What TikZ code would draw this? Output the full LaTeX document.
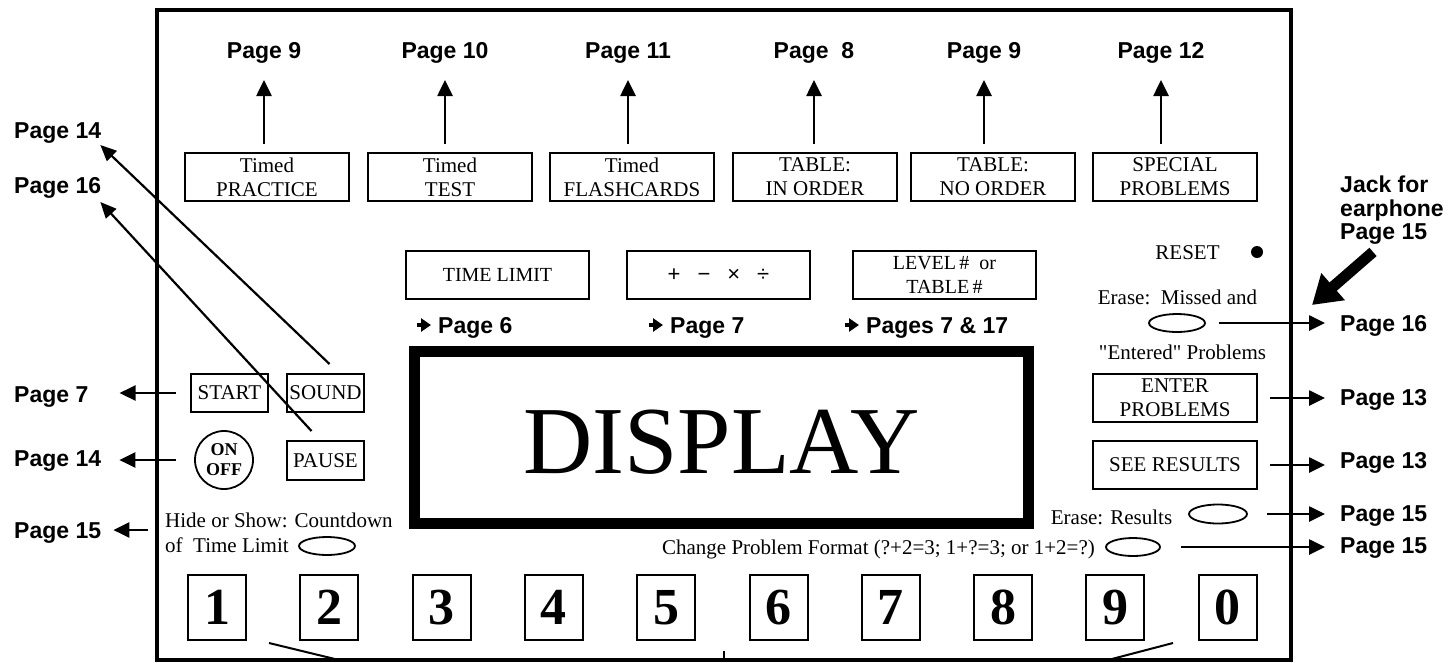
\documentclass[tikz,border=0pt]{standalone}
\usepackage{fontspec}
\setmainfont{Liberation Serif}[Ligatures=TeXOff]
\setsansfont{Liberation Sans}
\usetikzlibrary{arrows.meta,shapes.geometric,calc}
\begin{document}
\begin{tikzpicture}[x=1pt,y=-1pt,
  bl/.style={font=\sffamily\bfseries\fontsize{23}{23.5}\selectfont, inner sep=0pt},
  tx/.style={font=\fontsize{21}{24}\selectfont, inner sep=0pt},
  btn/.style={draw, line width=2pt, inner sep=0pt, align=center, font=\fontsize{21}{24}\selectfont},
  wide/.style={btn, minimum width=164pt, minimum height=48pt},
  mid/.style={btn, minimum width=183pt, minimum height=48pt},
  small/.style={btn, minimum width=77pt, minimum height=38pt},
  oval/.style={ellipse, draw, line width=1.8pt, inner sep=0pt, minimum width=56pt, minimum height=18pt},
  arr/.style={line width=2.6pt, -{Triangle[length=16pt,width=15pt]}},
  diag/.style={line width=2.2pt, -{Triangle[length=16pt,width=14pt]}},
  gl/.style={line width=3.5pt, -{Triangle[length=10pt,width=13pt]}},
  keyb/.style={draw, line width=2pt, minimum width=58pt, minimum height=65pt, inner sep=0pt, font=\bfseries\fontsize{52}{52}\selectfont},
]
\useasboundingbox (0,0) rectangle (1454,662);
% frame
\draw[line width=4.8pt] (157,10) rectangle (1291,660);

% top row
\node[wide] (b1) at (267,177) {Timed\\PRACTICE};
\node[wide] (b2) at (450,177) {Timed\\TEST};
\node[wide] (b3) at (632,177) {Timed\\FLASHCARDS};
\node[wide] (b4) at (815,177) {TABLE:\\IN ORDER};
\node[wide] (b5) at (993,177) {TABLE:\\NO ORDER};
\node[wide] (b6) at (1175,177) {SPECIAL\\PROBLEMS};
\node[bl, anchor=base] (p1) at (264,58) {Page 9};
\node[bl, anchor=base] (p2) at (445,58) {Page 10};
\node[bl, anchor=base] (p3) at (628,58) {Page 11};
\node[bl, anchor=base] (p4) at (814,58) {Page\ \ 8};
\node[bl, anchor=base] (p5) at (984,58) {Page 9};
\node[bl, anchor=base] (p6) at (1161,58) {Page 12};
\foreach \b/\p in {b1/p1,b2/p2,b3/p3,b4/p4,b5/p5,b6/p6}
  \draw[arr] ($(\b.north -| \p.base)+(0,-8)$) -- ($(\p.base)+(0,22)$);

% middle row
\node[mid, font=\fontsize{20}{24}\selectfont] (tl) at (497.5,275) {TIME LIMIT};
\node[mid, font=\sffamily\fontsize{22}{24}\selectfont] (ops) at (718.5,275) {+\hspace{17pt}−\hspace{17pt}×\hspace{17pt}÷};
\node[mid, font=\fontsize{20}{24}\selectfont] (lvl) at (944.5,275) {LEVEL\,\#\ \ or\\TABLE\,\#};
\node[bl, anchor=base west] (m6) at (438,333) {Page 6};
\node[bl, anchor=base west] (m7) at (670,333) {Page 7};
\node[bl, anchor=base west] (m717) at (866,333) {Pages 7 \& 17};
\foreach \m in {m6,m7,m717}
  \draw[gl] ($(\m.base west)+(-21,-8)$) -- ($(\m.base west)+(-7,-8)$);

% display
\node[draw, line width=11pt, minimum width=614pt, minimum height=172pt, inner sep=0pt] (disp) at (721.5,437.5) {};
\node[font=\fontsize{96}{96}\selectfont, inner sep=0pt] (dtext) at ($(disp.center)+(0,4.5)$) {DISPLAY};

% left controls
\node[small] (start) at (229.5,393) {START};
\node[small] (sound) at (325.5,393) {SOUND};
\node[small, minimum height=39pt] (pause) at (325.5,460.5) {PAUSE};
\node[circle, draw, line width=1.8pt, minimum size=58pt, inner sep=0pt, align=center, font=\bfseries\fontsize{18}{20}\selectfont] (onoff) at (224,460) {ON\\OFF};
\node[bl, anchor=base west] (p14a) at (14,138) {Page 14};
\node[bl, anchor=base west] (p16a) at (14,193) {Page 16};
\node[bl, anchor=base west] (p7) at (14,402) {Page 7};
\node[bl, anchor=base west] (p14b) at (14,466) {Page 14};
\draw[diag] ($(sound.north)+(4,-9)$) -- ($(p14a.base east)+(-1,7)$);
\draw[diag] ($(pause.north)+(-14,-9)$) -- ($(p16a.base east)+(-1,9)$);
\draw[arr] ($(start.west)+(-14,0)$) -- ($(start.west -| p7.base east)+(31,0)$);
\draw[arr] ($(onoff.west)+(-18,0)$) -- ($(onoff.west -| p14b.base east)+(18,0)$);

% lower left
\node[tx, anchor=base west] (hide) at (165,527) {Hide or Show: Countdown};
\node[tx, anchor=base west] (oftl) at (165,552) {of\ \ Time Limit};
\node[oval] (el2) at (327,546) {};
\node[bl, anchor=base west] (p15l) at (14,538) {Page 15};
\draw[arr] ($(hide.west |- p15l.base)+(-17,-8)$) -- ($(p15l.base east)+(12,-8)$);

% right side
\node[bl, anchor=north west, align=left] (jack) at (1340,176) {Jack for\\earphone\\Page 15};
\coordinate (jtip) at (1312,305);
\draw[line width=11pt, -{Triangle[length=28pt,width=34pt]}] ($(jack.south west)+(33,7)$) -- (jtip);
\node[tx, anchor=base] (reset) at (1187.5,259) {RESET};
\node[circle, fill, inner sep=0pt, minimum size=12pt] (dot) at (1257,252) {};
\node[tx, anchor=base] (erase1) at (1177.5,304) {Erase:\ \ Missed and};
\node[oval] (el1) at (1177,323) {};
\node[tx, anchor=base] (entered) at (1182.5,359) {"Entered" Problems};
\node[wide] (enter) at (1175,398) {ENTER\\PROBLEMS};
\node[wide] (see) at (1175,465) {SEE RESULTS};
\node[tx, anchor=base] (eraser) at (1111.5,524) {Erase: Results};
\node[oval, minimum width=58pt, minimum height=19pt] (el3) at (1218,514) {};
\node[tx, anchor=base east] (chg) at (1095,554) {Change Problem Format (?+2=3; 1+?=3; or 1+2=?)};
\node[oval, minimum width=54pt] (el4) at (1133,547) {};

\node[bl, anchor=base west] (p16r) at (1340,331) {Page 16};
\node[bl, anchor=base west] (p13a) at (1340,405) {Page 13};
\node[bl, anchor=base west] (p13b) at (1340,468) {Page 13};
\node[bl, anchor=base west] (p15a) at (1340,521) {Page 15};
\node[bl, anchor=base west] (p15b) at (1340,553) {Page 15};
\draw[arr] ($(el1.east)+(13,0)$) -- ($(el1.east -| p16r.base west)+(-15,0)$);
\draw[arr] ($(enter.east)+(12,0)$) -- ($(enter.east -| p13a.base west)+(-15,0)$);
\draw[arr] ($(see.east)+(12,0)$) -- ($(see.east -| p13b.base west)+(-15,0)$);
\draw[arr] ($(el3.east)+(19,0)$) -- ($(el3.east -| p15a.base west)+(-15,0)$);
\draw[arr] ($(el4.east)+(20,0)$) -- ($(el4.east -| p15b.base west)+(-15,0)$);

% keys
\foreach \i/\d in {0/1,1/2,2/3,3/4,4/5,5/6,6/7,7/8,8/9,9/0}
  \node[keyb] (k\d) at ({217+112.3*\i},607.5) {\d};
\draw[line width=2pt] (269,643) -- (339,660);
\draw[line width=2pt] (1173,643) -- (1108,660);
\draw[line width=2pt] (724,651) -- (724,660);
\end{tikzpicture}
\end{document}
